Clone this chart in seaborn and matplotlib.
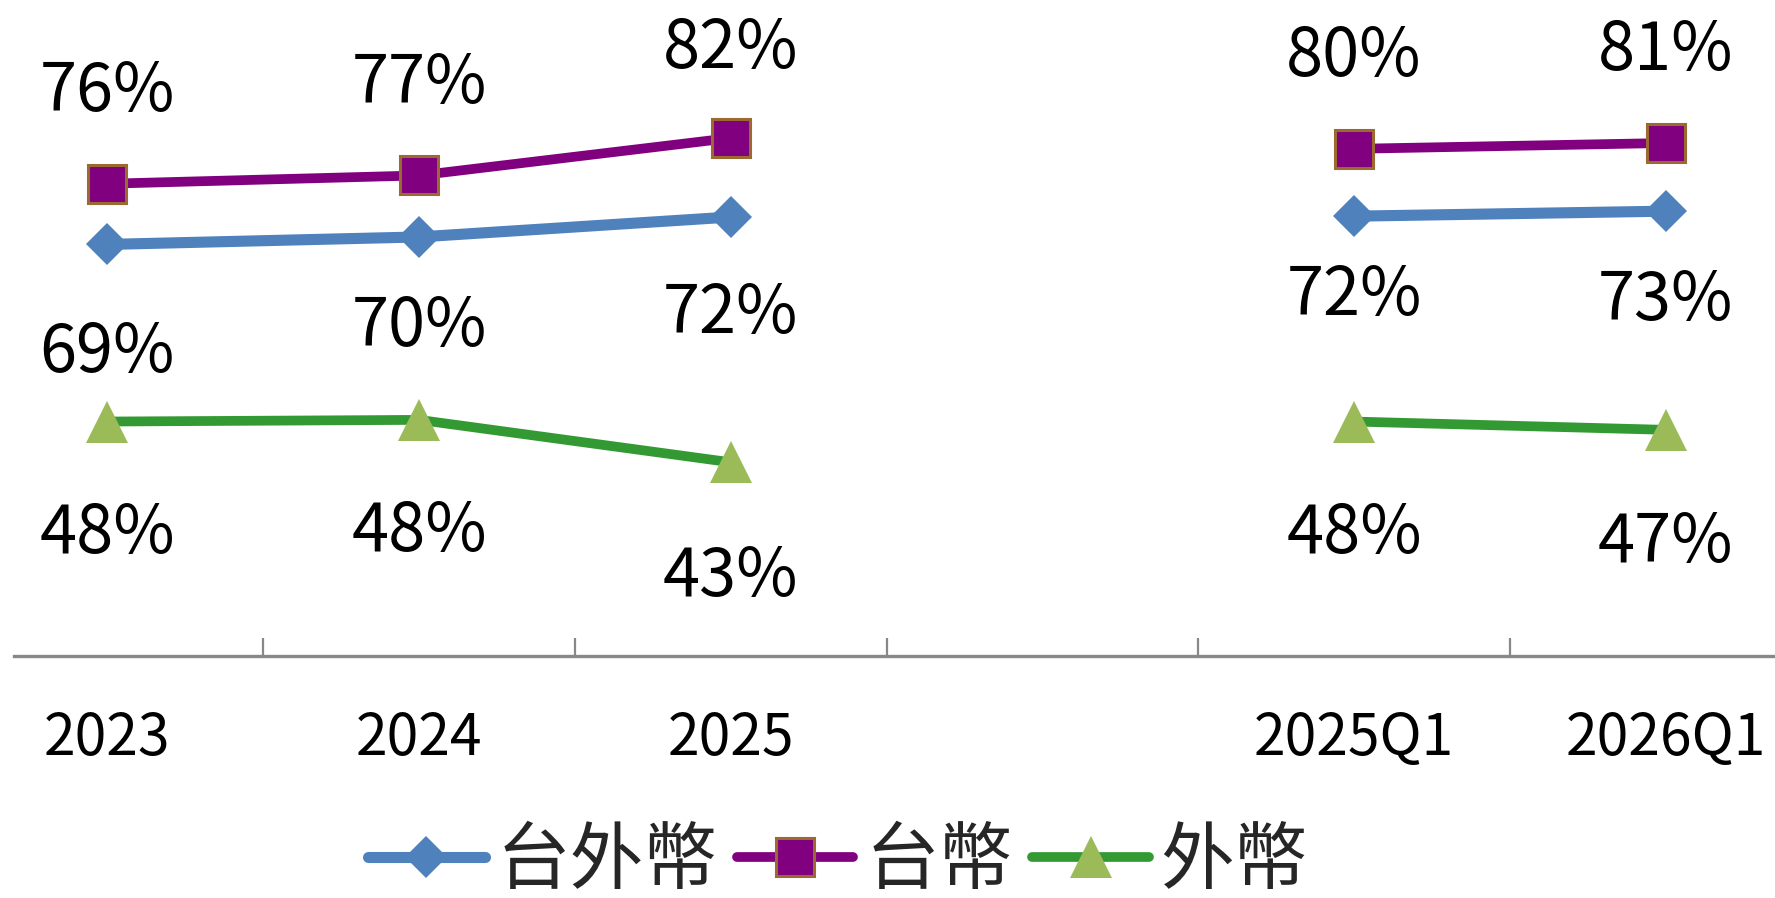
import matplotlib
matplotlib.use("Agg")
import matplotlib.pyplot as plt
import seaborn as sns
import pandas as pd
import numpy as np

# ---- data ----
categories = ["2023", "2024", "2025", "", "2025Q1", "2026Q1"]
positions = [0, 1, 2, 4, 5]          # category index of each value (index 3 is the gap)
segments = [0, 0, 0, 1, 1]           # annual vs quarterly group
series_names = ["台外幣", "台幣", "外幣"]
tw_fx = [68.9, 69.8, 72.2, 72.3, 72.9]
twd = [76.2, 77.2, 81.7, 80.4, 81.1]
fx = [47.6, 47.8, 42.7, 47.6, 46.6]

# ---- style ----
sns.set_theme(style="white")
plt.rcParams["font.family"] = ["Noto Sans CJK TC", "DejaVu Sans"]

W, H = 1775, 898
fig = plt.figure(figsize=(W / 100, H / 100), dpi=100)
ax_left = 13.6 / W
ax_bottom = (H - 656) / H
ax = fig.add_axes([ax_left, ax_bottom, 1 - ax_left, 656 / H])

styles = {
    "台外幣": dict(color="#4F81BD", lw=8, marker="D", markersize=21, markerfacecolor="#4F81BD",
                 markeredgecolor="#4F81BD", markeredgewidth=0),
    "台幣": dict(color="#800080", lw=7, marker="s", markersize=28, markerfacecolor="#800080",
                markeredgecolor="#9C6A30", markeredgewidth=2.2),
    "外幣": dict(color="#339933", lw=7, marker="^", markersize=30, markerfacecolor="#9BBB59",
                markeredgecolor="#9BBB59", markeredgewidth=0),
}
values = {"台外幣": tw_fx, "台幣": twd, "外幣": fx}
label_offsets = {
    "台外幣": [78, 65, 70, 58, 65],
    "台幣": [-66, -66, -64, -66, -66],
    "外幣": [81, 81, 83, 81, 82],
}

rows = []
for name in series_names:
    for p, s, v in zip(positions, segments, values[name]):
        rows.append(dict(series=name, pos=p, seg=s, value=v))
df = pd.DataFrame(rows)

for name in series_names:
    sub = df[df.series == name]
    for seg in sorted(sub.seg.unique()):
        part = sub[sub.seg == seg]
        sns.lineplot(data=part, x="pos", y="value", ax=ax, sort=False,
                     solid_capstyle="round",
                     label=name if seg == 0 else None, legend=False,
                     **styles[name])
    for p, v, off in zip(positions, values[name], label_offsets[name]):
        ax.annotate(f"{v:.0f}%", (p, v), xytext=(0, -off), textcoords="offset points",
                    ha="center", va="center", fontsize=48, color="black",
                    annotation_clip=False)

ax.set_xlim(-0.301, 5.351)
ax.set_ylim(19.4, 98.3)
ax.set_xlabel("")
ax.set_ylabel("")
ax.set_yticks([])

label_pos = [i for i, c in enumerate(categories) if c]
ax.set_xticks(label_pos)
ax.set_xticklabels([c for c in categories if c], fontsize=41)
ax.set_xticks([i + 0.5 for i in range(len(categories) - 1)], minor=True)
ax.tick_params(axis="x", which="major", length=0, pad=38.5, colors="black")
ax.tick_params(axis="x", which="minor", direction="in", length=13, width=1.6,
               color="#888888", bottom=True)

for sp in ["left", "top", "right"]:
    ax.spines[sp].set_visible(False)
ax.spines["bottom"].set_color("#888888")
ax.spines["bottom"].set_linewidth(2.4)
ax.patch.set_alpha(0)

h, l = ax.get_legend_handles_labels()
fig.legend(h, l, loc="center", bbox_to_anchor=(838 / W, 1 - 862 / H), ncol=3,
           frameon=False, fontsize=53, handlelength=1.58, handletextpad=0.16,
           columnspacing=0.27, borderpad=0, borderaxespad=0, numpoints=1)

fig.savefig("out.png", dpi=100)
